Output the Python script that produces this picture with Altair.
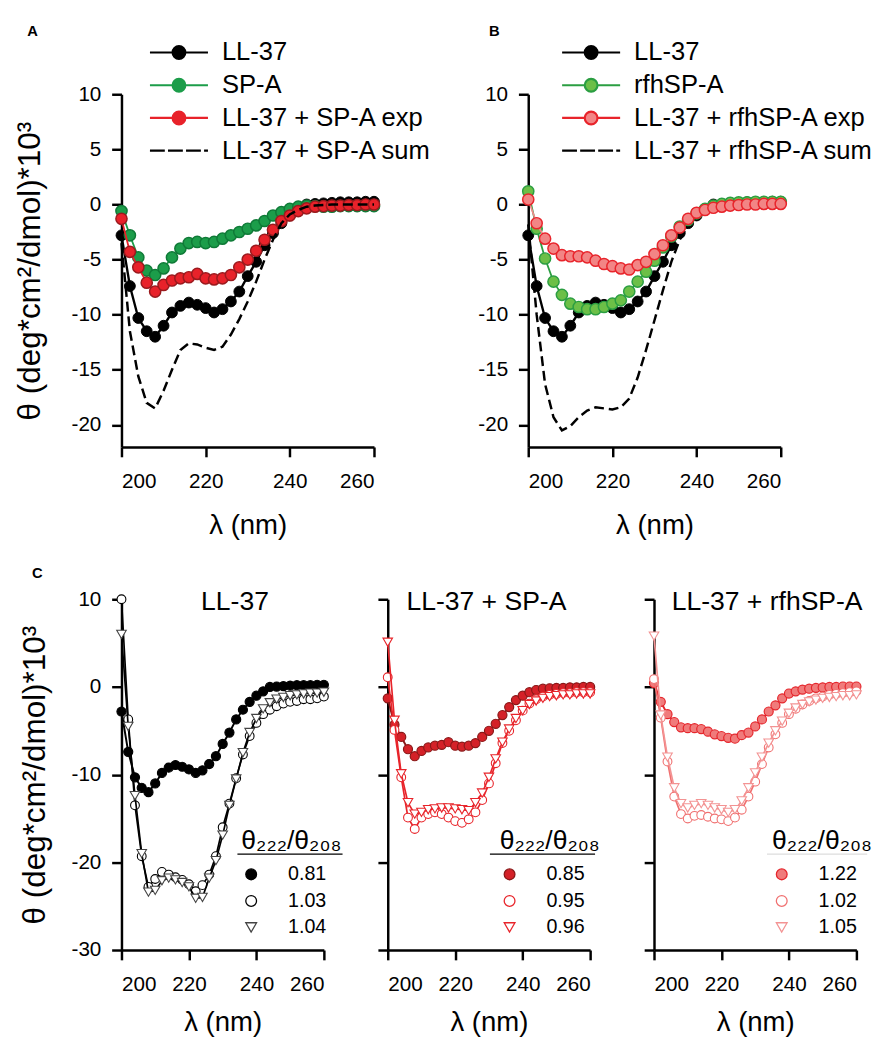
import altair as alt
import pandas as pd

FONT = "Liberation Sans"

# ---------------- data ----------------
wavelength = [200, 202, 204, 206, 208, 210, 212, 214, 216, 218, 220, 222, 224, 226, 228,
              230, 232, 234, 236, 238, 240, 242, 244, 246, 248, 250, 252, 254, 256, 258, 260]

ll37 = [-2.8, -7.4, -10.3, -11.5, -12.0, -11.0, -9.8, -9.2, -8.9, -9.1, -9.4, -9.8, -9.5, -8.8, -7.9,
        -6.5, -5.2, -3.7, -2.6, -1.7, -1.0, -0.5, 0.0, 0.05, 0.1, 0.15, 0.2, 0.2, 0.2, 0.25, 0.25]
spa = [-0.6, -2.8, -4.8, -6.0, -6.4, -5.8, -4.8, -4.0, -3.5, -3.4, -3.5, -3.4, -3.1, -2.8, -2.5,
       -2.2, -1.9, -1.5, -1.0, -0.7, -0.4, -0.2, -0.1, -0.15, -0.2, -0.2, -0.15, -0.15, -0.15, -0.15, -0.15]
ll37_spa_exp = [-1.3, -4.3, -5.7, -7.1, -7.9, -7.3, -6.9, -6.7, -6.6, -6.3, -6.7, -6.8, -6.7, -6.4, -5.7,
                -5.0, -4.2, -3.2, -2.3, -1.5, -1.0, -0.6, -0.35, -0.2, -0.15, -0.1, -0.1, -0.05, -0.05, 0.0, 0.0]
ll37_spa_sum = [-3.5, -11.5, -15.6, -18.0, -18.5, -16.9, -15.0, -13.2, -12.6, -12.7, -13.0, -13.2, -12.9, -11.8, -10.4,
                -8.8, -7.0, -5.0, -3.2, -1.7, -0.9, -0.5, -0.2, -0.1, -0.05, 0.0, 0.0, 0.0, 0.0, 0.0, 0.0]
rfhspa = [1.2, -2.2, -4.9, -7.0, -8.2, -9.0, -9.3, -9.5, -9.5, -9.3, -9.0, -8.7, -7.9, -7.0, -6.1,
          -5.1, -3.9, -2.9, -2.0, -1.4, -0.8, -0.4, -0.1, 0.05, 0.15, 0.2, 0.2, 0.25, 0.25, 0.25, 0.25]
ll37_rfh_exp = [0.45, -1.7, -3.1, -4.0, -4.6, -4.7, -4.7, -4.8, -5.1, -5.4, -5.6, -5.8, -5.9, -5.5, -5.2,
                -4.5, -3.7, -2.8, -2.1, -1.3, -0.75, -0.5, -0.3, -0.2, -0.1, -0.05, 0.0, 0.0, 0.05, 0.05, 0.05]
ll37_rfh_sum = [-1.8, -10.0, -16.3, -19.3, -20.5, -20.1, -19.3, -18.7, -18.4, -18.5, -18.6, -18.4, -17.6, -15.7, -13.2,
                -10.5, -7.8, -5.2, -3.2, -1.8, -0.9, -0.5, -0.2, 0.0, 0.1, 0.15, 0.2, 0.2, 0.2, 0.2, 0.2]

c1_circle = [10.0, -3.7, -13.5, -19.3, -22.8, -21.9, -21.1, -21.4, -21.7, -22.0, -22.5, -23.3, -22.6, -21.4, -19.3,
             -16.0, -13.3, -10.4, -7.7, -5.6, -4.1, -3.1, -2.6, -2.2, -1.9, -1.7, -1.6, -1.4, -1.4, -1.3, -1.1]
c1_triangle = [6.0, -4.5, -12.4, -19.0, -23.4, -23.2, -22.1, -21.8, -22.0, -22.3, -22.8, -24.1, -24.0, -21.8, -19.8,
               -16.9, -13.5, -10.5, -7.5, -5.2, -3.6, -2.5, -1.8, -1.4, -1.2, -1.0, -0.9, -0.8, -0.7, -0.7, -0.6]
c2_circle = [1.1, -4.9, -10.3, -14.9, -16.2, -14.9, -14.5, -14.3, -14.5, -14.9, -15.3, -15.5, -15.1, -14.3, -12.9,
             -11.0, -8.7, -6.4, -5.0, -3.8, -2.7, -1.9, -1.4, -1.1, -0.9, -0.8, -0.7, -0.7, -0.6, -0.6, -0.6]
c2_triangle = [5.1, -3.8, -9.9, -13.2, -14.5, -14.3, -14.0, -13.9, -13.8, -13.8, -13.9, -14.0, -14.1, -13.2, -12.1,
               -10.3, -8.2, -6.3, -4.8, -3.6, -2.7, -2.0, -1.6, -1.3, -1.1, -1.0, -0.9, -0.9, -0.8, -0.8, -0.8]
c3_circle = [0.9, -3.5, -8.5, -12.5, -14.5, -15.0, -14.7, -14.6, -14.8, -15.0, -15.1, -15.3, -14.9, -14.0, -12.5,
             -10.8, -8.8, -6.9, -5.4, -4.1, -3.1, -2.5, -2.0, -1.6, -1.3, -1.1, -0.9, -0.8, -0.7, -0.6, -0.5]
c3_triangle = [5.8, -3.2, -8.0, -11.5, -13.3, -13.8, -13.5, -13.3, -13.5, -13.8, -14.0, -14.3, -14.0, -13.0, -11.5,
               -9.8, -8.0, -6.4, -5.0, -3.9, -3.0, -2.4, -2.0, -1.7, -1.5, -1.3, -1.2, -1.1, -1.0, -1.0, -0.9]

names_a = ["LL-37", "SP-A", "LL-37 + SP-A exp", "LL-37 + SP-A sum"]
names_b = ["LL-37", "rfhSP-A", "LL-37 + rfhSP-A exp", "LL-37 + rfhSP-A sum"]
ratios_c1 = ["0.81", "1.03", "1.04"]
ratios_c2 = ["0.85", "0.95", "0.96"]
ratios_c3 = ["1.22", "1.02", "1.05"]
titles_c = ["LL-37", "LL-37 + SP-A", "LL-37 + rfhSP-A"]
panel_letters = ["A", "B", "C"]
ratio_header = "θ₂₂₂/θ₂₀₈"
y_title = "θ (deg*cm²/dmol)*10³"
x_title = "λ (nm)"
x_ticks = [200, 220, 240, 260]
y_ticks_ab = [-20, -15, -10, -5, 0, 5, 10]
y_ticks_c = [-30, -20, -10, 0, 10]

# ---------------- styles ----------------
BLACK = "#000000"
GREEN_A, GREEN_A_EDGE = "#1c9d4a", "#0f7a37"
RED_A, RED_A_EDGE = "#e8222a", "#9b1a1e"
GREEN_B, GREEN_B_EDGE = "#6cbf47", "#2b9e42"
PINK_B, PINK_B_EDGE, PINK_LINE = "#f28585", "#e8242b", "#f08a8a"
C2_FILL, C2_EDGE, C2_OPEN = "#d42128", "#8a1818", "#e8242a"
C3_FILL, C3_EDGE, C3_CIRC, C3_TRI = "#f07b7b", "#e5262c", "#f07070", "#f39393"

U = 2.46   # half length of legend line (in symbol units)
R = 0.54   # legend circle radius (in symbol units)
circ = f"M{R},0A{R},{R},0,1,1,-{R},0A{R},{R},0,1,1,{R},0Z"
LINE_DOT = f"M-{U},0L-{R},0M{R},0L{U},0" + circ
DASHED = "M-2.46,0L-1.2,0M-0.93,0L0.33,0M0.6,0L1.86,0M2.13,0L2.46,0"

WL_X = alt.Scale(domain=[200, 260], nice=False, zero=False)
Y_AB = alt.Scale(domain=[-22, 10], nice=False, zero=False)
Y_C = alt.Scale(domain=[-30, 10], nice=False, zero=False)

LABEL_EXPR = "datum.value < 0 ? '-' + abs(datum.value) : '' + datum.value"


def x_axis(title_pad):
    return alt.Axis(values=x_ticks, title=x_title, titleFontSize=28, titleFontWeight="normal",
                    titlePadding=title_pad, labelFontSize=21, labelPadding=14, tickSize=10,
                    tickWidth=2.5, domainWidth=2.5, domainColor=BLACK, tickColor=BLACK,
                    labelColor=BLACK, titleColor=BLACK, grid=False, labelOverlap=False)


def y_axis(values, title, title_pad, labels=True):
    return alt.Axis(values=values, title=title, titleFontSize=32, titleFontWeight="normal",
                    titlePadding=title_pad, labelFontSize=21, labelPadding=11, tickSize=10,
                    tickWidth=2.5, domainWidth=2.5, domainColor=BLACK, tickColor=BLACK,
                    labelColor=BLACK, titleColor=BLACK, grid=False, labels=labels,
                    labelExpr=LABEL_EXPR, labelOverlap=False)


def frame(vals):
    return pd.DataFrame({"wl": wavelength, "val": vals})


def enc(ys, xax, yax):
    return dict(x=alt.X("wl:Q", scale=WL_X, axis=xax), y=alt.Y("val:Q", scale=ys, axis=yax))


def series(vals, e, line_color, line_width, shape, fill, stroke, stroke_width, size):
    base = alt.Chart(frame(vals)).encode(**e)
    line = base.mark_line(color=line_color, strokeWidth=line_width)
    pts = base.mark_point(shape=shape, filled=True, fill=fill, stroke=stroke,
                          strokeWidth=stroke_width, size=size, opacity=1)
    return [line, pts]


def dashed(vals, e):
    return alt.Chart(frame(vals)).encode(**e).mark_line(color=BLACK, strokeWidth=2.5, strokeDash=[10, 5])


def legend_layer(names, shapes, fills, strokes, e, legend):
    df = pd.DataFrame({"series": names, "wl": [None] * len(names), "val": [None] * len(names)})
    return alt.Chart(df).mark_point(filled=True, opacity=1).encode(
        **e,
        shape=alt.Shape("series:N", scale=alt.Scale(domain=names, range=shapes), legend=legend),
        fill=alt.Fill("series:N", scale=alt.Scale(domain=names, range=fills), legend=legend),
        stroke=alt.Stroke("series:N", scale=alt.Scale(domain=names, range=strokes), legend=legend),
    )


def text_layer(txt, x, y, size, weight="normal"):
    return alt.Chart(pd.DataFrame({"t": [txt]})).mark_text(
        fontSize=size, fontWeight=weight, align="left", baseline="alphabetic", color=BLACK
    ).encode(text="t:N", x=alt.value(x), y=alt.value(y))


def anchor(x, y):
    # invisible layout anchor that fixes the extent of a panel row
    return alt.Chart(pd.DataFrame({"a": [0]})).mark_point(filled=True, opacity=0, size=1).encode(
        x=alt.value(x), y=alt.value(y))


def top_legend(x):
    return alt.Legend(orient="none", legendX=x, legendY=-56, title=None, symbolSize=576,
                      symbolStrokeWidth=2.2, labelFontSize=26, labelOffset=30.2, labelLimit=500,
                      rowPadding=6.3, padding=0, labelColor=BLACK)


def c_legend(x):
    return alt.Legend(orient="none", legendX=x, legendY=233, title=ratio_header, titleFontSize=27,
                      titleFontWeight="normal", titlePadding=10, titleColor=BLACK, symbolSize=120,
                      symbolStrokeWidth=1.3, labelFontSize=20, labelOffset=27.5, rowPadding=7,
                      padding=0, labelColor=BLACK)


# ---------------- panel A ----------------
eA = enc(Y_AB, x_axis(21), y_axis(y_ticks_ab, y_title, 24.6))
layers_a = []
layers_a += series(ll37, eA, BLACK, 2.4, "circle", BLACK, BLACK, 1, 121)
layers_a += series(spa, eA, GREEN_A, 1.8, "circle", GREEN_A, GREEN_A_EDGE, 1.5, 130)
layers_a += series(ll37_spa_exp, eA, RED_A, 1.8, "circle", RED_A, RED_A_EDGE, 1.5, 130)
layers_a.append(dashed(ll37_spa_sum, eA))
layers_a.append(legend_layer(names_a, [LINE_DOT, LINE_DOT, LINE_DOT, DASHED],
                             [BLACK, GREEN_A, RED_A, BLACK], [BLACK, GREEN_A, RED_A, BLACK],
                             eA, top_legend(45)))
layers_a.append(text_layer(panel_letters[0], -96, -59, 15, "bold"))
layers_a.append(anchor(-130, -100))
layers_a.append(anchor(100, 470))
panel_a = alt.layer(*layers_a).properties(width=257, height=359)

# ---------------- panel B ----------------
eB = enc(Y_AB, x_axis(21), y_axis(y_ticks_ab, "", 24.6))
layers_b = [dashed(ll37_rfh_sum, eB)]
layers_b += series(ll37, eB, BLACK, 2.4, "circle", BLACK, BLACK, 1, 121)
layers_b += series(rfhspa, eB, GREEN_B_EDGE, 1.8, "circle", GREEN_B, GREEN_B_EDGE, 1.5, 130)
layers_b += series(ll37_rfh_exp, eB, PINK_LINE, 1.8, "circle", PINK_B, PINK_B_EDGE, 1.5, 130)
layers_b.append(legend_layer(names_b, [LINE_DOT, LINE_DOT, LINE_DOT, DASHED],
                             [BLACK, GREEN_B, PINK_B, BLACK], [BLACK, GREEN_B_EDGE, PINK_B_EDGE, BLACK],
                             eB, top_legend(50.5)))
layers_b.append(text_layer(panel_letters[1], -40, -59, 15, "bold"))
panel_b = alt.layer(*layers_b).properties(width=257, height=359)


# ---------------- panel C ----------------
def c_panel(idx, filled_vals, circ_vals, tri_vals, styles, names, legx, title_x, rule_x, rule_color, first):
    e = enc(Y_C, x_axis(15), y_axis(y_ticks_c, y_title if first else "", 19.65, labels=first))
    (f_fill, f_edge, f_line), (c_edge, c_line), (t_edge, t_line) = styles
    layers = []
    layers += series(filled_vals, e, f_line, 2.0, "circle", f_fill, f_edge, 1.2, 85)
    layers += series(circ_vals, e, c_line, 1.7, "circle", "white", c_edge, 1.1, 80)
    layers += series(tri_vals, e, t_line, 1.7, "triangle-down", "white", t_edge, 1.1, 95)
    layers.append(legend_layer(names, ["circle", "circle", "triangle-down"],
                               [f_fill, "white", "white"], [f_edge, c_edge, t_edge], e, c_legend(legx)))
    layers.append(alt.Chart(pd.DataFrame({"t": [ratio_header]})).mark_rule(
        color=rule_color, strokeWidth=1.3).encode(
        x=alt.value(rule_x[0]), x2=alt.value(rule_x[1]), y=alt.value(259.5)))
    layers.append(text_layer(titles_c[idx], title_x, 11, 27))
    if first:
        layers.append(text_layer(panel_letters[2], -91, -22, 15, "bold"))
        layers.append(anchor(-125, -40))
    return alt.layer(*layers).properties(width=206, height=357)


c1 = c_panel(0, ll37, c1_circle, c1_triangle,
             ((BLACK, BLACK, BLACK), (BLACK, BLACK), ("#444444", BLACK)),
             ratios_c1, 122, 81, (118, 225), BLACK, True)
c2 = c_panel(1, ll37_spa_exp, c2_circle, c2_triangle,
             ((C2_FILL, C2_EDGE, C2_EDGE), (C2_OPEN, C2_OPEN), (C2_OPEN, C2_OPEN)),
             ratios_c2, 114, 19, (104, 211), BLACK, False)
c3 = c_panel(2, ll37_rfh_exp, c3_circle, c3_triangle,
             ((C3_FILL, C3_EDGE, C3_EDGE), (C3_CIRC, C3_CIRC), (C3_TRI, C3_TRI)),
             ratios_c3, 120, 18, (115, 217), "#dddddd", False)

RES = dict(shape="independent", fill="independent", stroke="independent")

top_row = alt.hconcat(panel_a, panel_b, spacing=157, bounds="flush").resolve_scale(**RES)
bottom_row = alt.hconcat(c1, c2, c3, spacing=65, bounds="flush").resolve_scale(**RES)

chart = alt.vconcat(top_row, bottom_row, spacing=2).resolve_scale(**RES).properties(
    padding={"left": -15.5, "top": -22.5, "right": 5, "bottom": 5}
).configure(font=FONT).configure_view(stroke="transparent")

chart.save("out.html", embed_options={"renderer": "svg", "actions": False})
